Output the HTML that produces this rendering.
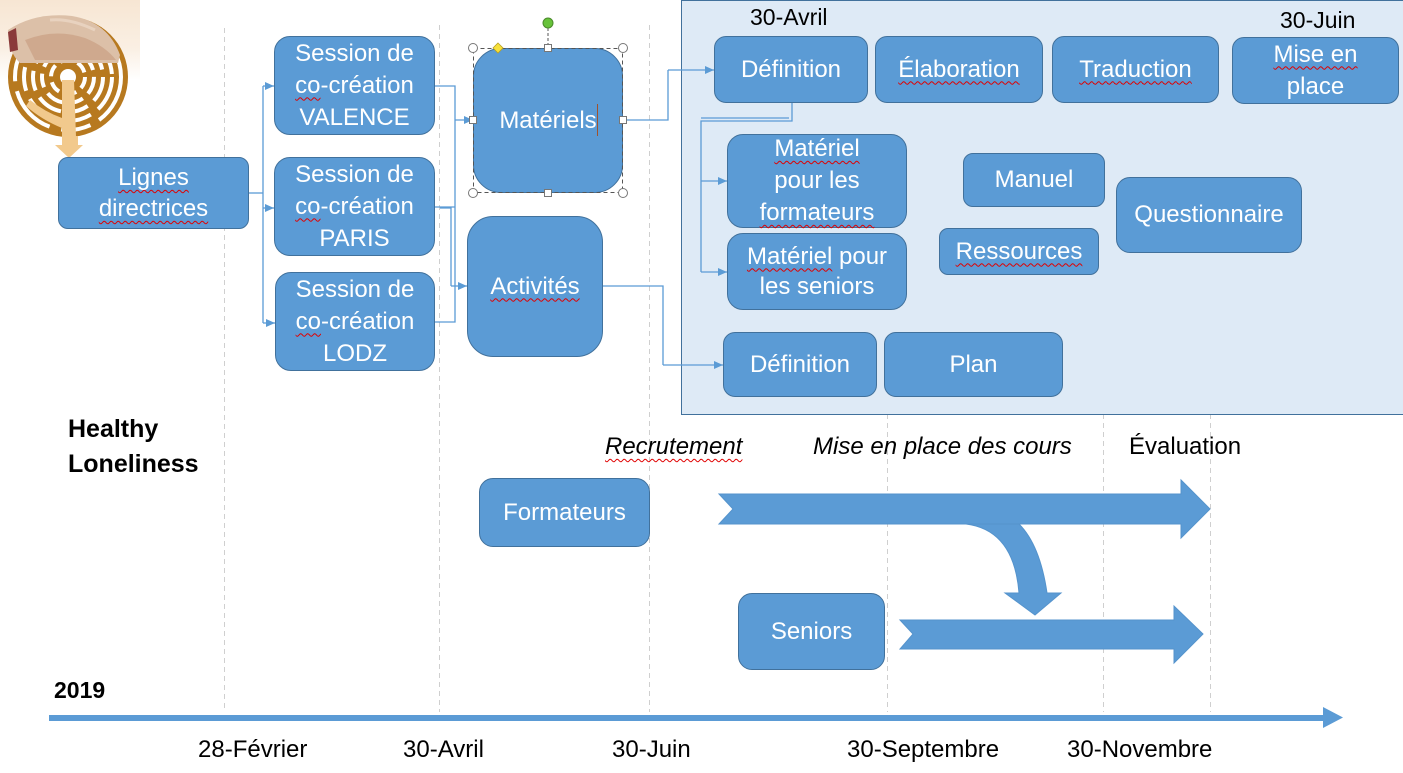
<!DOCTYPE html>
<html><head><meta charset="utf-8">
<style>
*{margin:0;padding:0;box-sizing:border-box}
body{width:1403px;height:773px;overflow:hidden;background:#fff;position:relative;font-family:"Liberation Sans",sans-serif}
.b{position:absolute;background:#5b9bd5;border:1.3px solid #41719c;color:#fff;font-size:24px;display:flex;align-items:center;justify-content:center;text-align:center;line-height:32px}
.t{position:absolute;font-size:24px;line-height:28px;white-space:nowrap;color:#000}
.w{text-decoration:underline wavy #e00000;text-decoration-thickness:1px;text-underline-offset:4px;text-decoration-skip-ink:none}
svg{position:absolute;left:0;top:0}
</style></head><body>

<!-- dashed verticals -->
<svg width="1403" height="773" style="z-index:0">
<g stroke="#cfcfcf" stroke-width="1" stroke-dasharray="5,4">
<line x1="224.5" y1="28" x2="224.5" y2="712"/>
<line x1="439.5" y1="25" x2="439.5" y2="712"/>
<line x1="649.5" y1="25" x2="649.5" y2="712"/>
<line x1="887.5" y1="414" x2="887.5" y2="712"/>
<line x1="1103.5" y1="414" x2="1103.5" y2="712"/>
<line x1="1210.5" y1="414" x2="1210.5" y2="712"/>
</g>
</svg>

<!-- panel -->
<div style="position:absolute;left:681px;top:0;width:740px;height:415px;background:#deeaf6;border:1.5px solid #41719c;z-index:1"></div>

<!-- photo + connectors + big arrows -->
<svg width="1403" height="773" style="z-index:2">
<defs>
<linearGradient id="bg" x1="0" y1="0" x2="0" y2="1">
<stop offset="0" stop-color="#f7e6d3"/><stop offset="0.6" stop-color="#faefe3"/><stop offset="1" stop-color="#ffffff"/>
</linearGradient>
<marker id="ar" markerWidth="10" markerHeight="10" refX="9" refY="5" orient="auto" markerUnits="userSpaceOnUse">
<path d="M0,1 L9,5 L0,9 Z" fill="#5b9bd5"/>
</marker>
</defs>
<!-- photo -->
<rect x="0" y="0" width="140" height="80" fill="url(#bg)"/>
<circle cx="68" cy="77" r="60" fill="#b7791f"/>
<g fill="none" stroke="#fff" stroke-width="4">
<circle cx="68" cy="77" r="53" stroke-dasharray="50,10,30,12"/>
<circle cx="68" cy="77" r="44" stroke-dasharray="36,9,24,10"/>
<circle cx="68" cy="77" r="35" stroke-dasharray="26,8,20,8"/>
<circle cx="68" cy="77" r="26" stroke-dasharray="18,7,14,7"/>
<circle cx="68" cy="77" r="17" stroke-dasharray="12,6"/>
</g>
<circle cx="68" cy="77" r="8" fill="#fff"/>
<path d="M62,80 L74,80 L76,137 L62,137 Z" fill="#f1c98d"/>
<path d="M30,100 Q45,112 62,118 L62,128 Q42,120 26,106 Z" fill="#f1c98d"/>
<path d="M8,30 Q35,12 72,16 Q108,22 120,55 L118,63 L20,63 Q8,52 8,30 Z" fill="#dcc0a8"/>
<path d="M25,40 Q55,28 85,38 Q105,46 116,60 L35,60 Z" fill="#cfa98e"/>
<path d="M50,20 Q70,18 95,30" stroke="#e8d2bf" stroke-width="3" fill="none"/>
<path d="M8,32 L16,28 L18,50 L10,52 Z" fill="#8a3a3a"/>
<rect x="62" y="136" width="16" height="10" fill="#f2c98c"/>
<path d="M55,145 L83,145 L69,158 Z" fill="#f2c98c"/>

<g fill="none" stroke="#5b9bd5" stroke-width="1.3">
<!-- lignes -> sessions -->
<polyline points="249,193 263,193"/>
<polyline points="263,86 263,323"/>
<line x1="263" y1="86" x2="274" y2="86" marker-end="url(#ar)"/>
<line x1="263" y1="208" x2="274" y2="208" marker-end="url(#ar)"/>
<line x1="263" y1="323" x2="275" y2="323" marker-end="url(#ar)"/>
<!-- sessions -> materiels -->
<polyline points="435,86 455,86 455,322 435,322"/>
<polyline points="435,207 455,207"/>
<line x1="455" y1="120" x2="473" y2="120" marker-end="url(#ar)"/>
<polyline points="440,208 451,208 451,286" />
<line x1="451" y1="286" x2="467" y2="286" marker-end="url(#ar)"/>
<!-- materiels -> definition -->
<polyline points="623,120 668,120 668,70" />
<line x1="668" y1="70" x2="714" y2="70" marker-end="url(#ar)"/>
<!-- definition -> materiel -->
<polyline points="792,103 792,121 701,121 701,272"/>
<polyline points="789,118 701,118"/>
<line x1="701" y1="181" x2="727" y2="181" marker-end="url(#ar)"/>
<line x1="701" y1="272" x2="727" y2="272" marker-end="url(#ar)"/>
<!-- activites -> definition 2 -->
<polyline points="603,286 663,286 663,365"/>
<line x1="663" y1="365" x2="723" y2="365" marker-end="url(#ar)"/>
</g>

<!-- big arrows -->
<g fill="#5b9bd5" stroke="#5593cc" stroke-width="1">
<polygon points="719,494 1181,494 1181,480 1210,509 1181,538 1181,524 719,524 733,509"/>
<polygon points="900,620 1174,620 1174,606 1203,634 1174,663 1174,649 900,649 913,634"/>
<path d="M966,524 Q1014,530 1019,593 L1005,593 L1035,615 L1061,593 L1047,593 Q1040,545 1019,524 Z"/>
</g>

<!-- timeline -->
<rect x="49" y="715" width="1276" height="6" fill="#5b9bd5"/>
<polygon points="1323,707 1343,717.5 1323,728" fill="#5b9bd5"/>
</svg>

<!-- boxes -->
<div style="position:absolute;z-index:3">
<div class="b" style="left:58px;top:157px;width:191px;height:72px;border-radius:10px;line-height:31px"><span><span class="w">Lignes</span><br><span class="w">directrices</span></span></div>
<div class="b" style="left:274px;top:36px;width:161px;height:99px;border-radius:16px"><span>Session de<br><span class="w">co</span>-création<br>VALENCE</span></div>
<div class="b" style="left:274px;top:157px;width:161px;height:99px;border-radius:16px"><span>Session de<br><span class="w">co</span>-création<br>PARIS</span></div>
<div class="b" style="left:275px;top:272px;width:160px;height:99px;border-radius:16px"><span>Session de<br><span class="w">co</span>-création<br>LODZ</span></div>
<div class="b" style="left:473px;top:48px;width:150px;height:145px;border-radius:28px">Matériels</div>
<div class="b" style="left:467px;top:216px;width:136px;height:141px;border-radius:26px"><span class="w">Activités</span></div>
<div class="b" style="left:714px;top:36px;width:154px;height:67px;border-radius:12px">Définition</div>
<div class="b" style="left:875px;top:36px;width:168px;height:67px;border-radius:12px"><span class="w">Élaboration</span></div>
<div class="b" style="left:1052px;top:36px;width:167px;height:67px;border-radius:12px"><span class="w">Traduction</span></div>
<div class="b" style="left:1232px;top:37px;width:167px;height:67px;border-radius:12px"><span><span class="w">Mise en</span><br>place</span></div>
<div class="b" style="left:727px;top:134px;width:180px;height:94px;border-radius:16px"><span><span class="w">Matériel</span><br>pour les<br><span class="w">formateurs</span></span></div>
<div class="b" style="left:727px;top:233px;width:180px;height:77px;border-radius:16px;line-height:30px"><span><span class="w">Matériel</span> pour<br>les seniors</span></div>
<div class="b" style="left:963px;top:153px;width:142px;height:54px;border-radius:10px">Manuel</div>
<div class="b" style="left:939px;top:228px;width:160px;height:47px;border-radius:9px"><span class="w">Ressources</span></div>
<div class="b" style="left:1116px;top:177px;width:186px;height:76px;border-radius:14px">Questionnaire</div>
<div class="b" style="left:723px;top:332px;width:154px;height:65px;border-radius:12px">Définition</div>
<div class="b" style="left:884px;top:332px;width:179px;height:65px;border-radius:12px">Plan</div>
<div class="b" style="left:479px;top:478px;width:171px;height:69px;border-radius:14px">Formateurs</div>
<div class="b" style="left:738px;top:593px;width:147px;height:77px;border-radius:14px">Seniors</div>
</div>

<!-- selection handles & cursor -->
<svg width="1403" height="773" style="z-index:4">
<rect x="473.5" y="48.5" width="149" height="144" fill="none" stroke="#555" stroke-width="1" stroke-dasharray="4,3"/>
<line x1="548" y1="28" x2="548" y2="45" stroke="#555" stroke-width="1" stroke-dasharray="3,2"/>
<circle cx="548" cy="23" r="5" fill="#67c23a" stroke="#4a8a2a" stroke-width="1"/>
<g fill="#fff" stroke="#777" stroke-width="1">
<circle cx="473" cy="48" r="4.5"/><circle cx="623" cy="48" r="4.5"/>
<circle cx="473" cy="193" r="4.5"/><circle cx="623" cy="193" r="4.5"/>
<rect x="544.5" y="44.5" width="7" height="7"/><rect x="544.5" y="189.5" width="7" height="7"/>
<rect x="469.5" y="116.5" width="7" height="7"/><rect x="619.5" y="116.5" width="7" height="7"/>
</g>
<polygon points="498,43 503,48 498,53 493,48" fill="#f7e13a" stroke="#b9a020" stroke-width="0.8"/>
<line x1="597.5" y1="104" x2="597.5" y2="136" stroke="#a0522d" stroke-width="1"/>
</svg>

<!-- free text -->
<div style="position:absolute;z-index:5;left:0;top:0">
<div class="t" style="left:750px;top:3px;font-size:23px">30-Avril</div>
<div class="t" style="left:1280px;top:6px;font-size:23px">30-Juin</div>
<div class="t" style="left:68px;top:415px;font-weight:bold;font-size:25px">Healthy</div>
<div class="t" style="left:68px;top:450px;font-weight:bold;font-size:25px">Loneliness</div>
<div class="t" style="left:605px;top:433px;font-style:italic"><span class="w">Recrutement</span></div>
<div class="t" style="left:813px;top:433px;font-style:italic">Mise en place des cours</div>
<div class="t" style="left:1129px;top:433px">Évaluation</div>
<div class="t" style="left:54px;top:676px;font-weight:bold;font-size:23px">2019</div>
<div class="t" style="left:198px;top:736px">28-Février</div>
<div class="t" style="left:403px;top:736px">30-Avril</div>
<div class="t" style="left:612px;top:736px">30-Juin</div>
<div class="t" style="left:847px;top:736px">30-Septembre</div>
<div class="t" style="left:1067px;top:736px">30-Novembre</div>
</div>

</body></html>
